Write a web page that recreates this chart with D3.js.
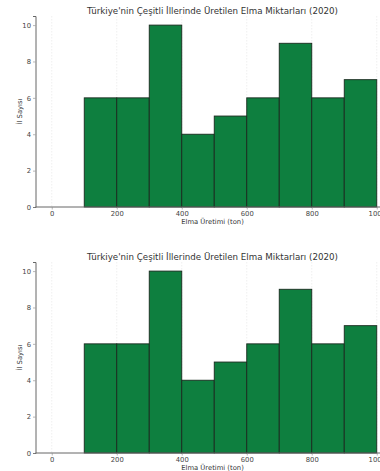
<!DOCTYPE html>
<html><head><meta charset="utf-8">
<script src="https://cdn.jsdelivr.net/npm/d3@7"></script>
<style>body{margin:0;background:#fff}svg{display:block}</style>
</head><body>
<svg id="c" width="380" height="471"></svg>
<script>
const binStarts = [0,100,200,300,400,500,600,700,800,900];
const binWidth = 100;
const counts = [0,6,6,10,4,5,6,9,6,7];
const xTicks = [0,200,400,600,800,1000];
const yTicks = [0,2,4,6,8,10];
const title = "Türkiye'nin Çeşitli İllerinde Üretilen Elma Miktarları (2020)";
const xLabel = "Elma Üretimi (ton)";
const yLabel = "İl Sayısı";

const svg = d3.select("#c");
const font = "DejaVu Sans, sans-serif";
const M = {left:35.5, right:393, top:16, bottom:207};

function panel(dy){
  const g = svg.append("g").attr("transform",`translate(0,${dy})`);
  const x = d3.scaleLinear().domain([-50,1050]).range([M.left,M.right]);
  const y = d3.scaleLinear().domain([0,10.5]).range([M.bottom,M.top]);
  // grid
  g.append("g").selectAll("line").data(xTicks).join("line")
    .attr("x1",d=>x(d)).attr("x2",d=>x(d)).attr("y1",M.top).attr("y2",M.bottom)
    .attr("stroke","#e6e6e6").attr("stroke-width",0.6).attr("stroke-dasharray","1.5,1.5");
  // bars
  g.append("g").selectAll("rect").data(counts.map((c,i)=>({s:binStarts[i],c})).filter(d=>d.c>0)).join("rect")
    .attr("x",d=>x(d.s)).attr("width",d=>x(d.s+binWidth)-x(d.s))
    .attr("y",d=>y(d.c)).attr("height",d=>y(0)-y(d.c))
    .attr("fill","#0e7f3f").attr("stroke","#1a2a1f").attr("stroke-width",0.9);
  // axes
  const xa = g.append("g").attr("transform",`translate(0,${M.bottom})`)
    .call(d3.axisBottom(x).tickValues(xTicks).tickSize(2.5).tickPadding(2).tickFormat(d3.format("d")));
  const ya = g.append("g").attr("transform",`translate(${M.left},0)`)
    .call(d3.axisLeft(y).tickValues(yTicks).tickSize(2.5).tickPadding(2).tickFormat(d3.format("d")));
  [xa,ya].forEach(a=>{
    a.select(".domain").attr("stroke","#666").attr("stroke-width",1);
    a.selectAll(".tick line").attr("stroke","#888").attr("stroke-width",0.6);
    a.selectAll("text").attr("font-family",font).attr("font-size",6.8).attr("fill","#444");
  });
  xa.select(".domain").attr("d",`M${M.left},0H${M.right}`);
  g.append("text").attr("x",212.5).attr("y",13.5).attr("text-anchor","middle")
    .attr("font-family",font).attr("font-size",8.7).attr("fill","#333").text(title);
  g.append("text").attr("x",212.5).attr("y",224).attr("text-anchor","middle")
    .attr("font-family",font).attr("font-size",6.8).attr("fill","#333").text(xLabel);
  g.append("text").attr("transform",`translate(22,${(M.top+M.bottom)/2}) rotate(-90)`).attr("text-anchor","middle")
    .attr("font-family",font).attr("font-size",6.8).attr("fill","#333").text(yLabel);
}
panel(0);
panel(246);
</script>
</body></html>
